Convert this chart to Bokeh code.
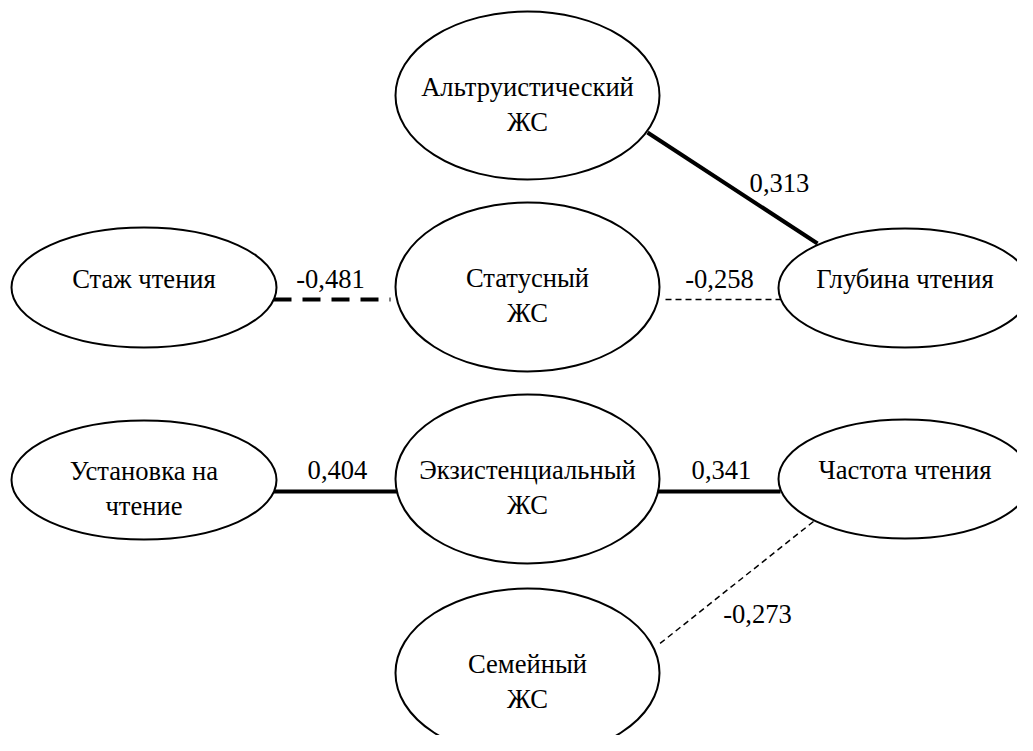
from bokeh.plotting import figure
from bokeh.models import Range1d
from bokeh.core.properties import value
from bokeh.embed import file_html
from bokeh.resources import INLINE

# ---- data ----
node_names = ["Альтруистический\nЖС", "Стаж чтения", "Статусный\nЖС", "Глубина чтения",
              "Установка на\nчтение", "Экзистенциальный\nЖС", "Частота чтения", "Семейный\nЖС"]
edge_from = [0, 1, 2, 4, 5, 6]
edge_to = [3, 2, 3, 5, 6, 7]
edge_r = [0.313, -0.481, -0.258, 0.404, 0.341, -0.273]

# ---- layout (screen pixel coordinates) ----
node_x = [527, 143.5, 527, 904.5, 143.5, 527, 904.5, 527]
node_y = [95, 287, 286.5, 287.5, 479.5, 478.5, 478.5, 672.5]
node_w = [264, 265, 264, 253, 265, 264, 253, 264]
node_h = [168, 120, 169, 119, 119, 169, 119, 169]
edge_x0 = [647, 273, 665, 273, 657, 813]
edge_y0 = [132, 299, 299, 491, 491, 521]
edge_x1 = [817, 390, 780, 397, 780, 657]
edge_y1 = [243, 299, 299, 491, 491, 645]
label_x = [779, 330, 719, 337, 721, 757]
label_y = [191, 287, 287, 478, 478, 622]

FONT = value("Liberation Serif")
FS = "26.6px"
LINE_GAP = 35
TEXT_DY = -9   # renderer baseline correction

p = figure(width=1017, height=735, output_backend="svg", toolbar_location=None,
           x_range=Range1d(0, 1017), y_range=Range1d(735, 0),
           x_axis_type=None, y_axis_type=None, min_border=0)
p.grid.visible = False
p.outline_line_color = None
p.background_fill_color = "white"
p.border_fill_color = "white"

# edges
for i in range(len(edge_r)):
    r = edge_r[i]
    lw = 4 if abs(r) >= 0.3 else 1.5
    if r < 0:
        dash = "18 11" if abs(r) >= 0.3 else "6 4"
    else:
        dash = "solid"
    p.line([edge_x0[i], edge_x1[i]], [edge_y0[i], edge_y1[i]],
           line_color="black", line_width=lw, line_dash=dash)

# nodes
p.ellipse(x=node_x, y=node_y, width=node_w, height=node_h,
          fill_color="white", line_color="black", line_width=2)

tx, ty, tt = [], [], []
for i, name in enumerate(node_names):
    for k, line in enumerate(name.split("\n")):
        tx.append(node_x[i])
        ty.append(node_y[i] + k * LINE_GAP + TEXT_DY)
        tt.append(line)
p.text(x=tx, y=ty, text=tt, text_align="center", text_baseline="alphabetic",
       text_font=FONT, text_font_size=FS, text_color="black")

# edge labels
labels = [f"{r:.3f}".replace(".", ",") for r in edge_r]
p.text(x=label_x, y=[v + TEXT_DY for v in label_y], text=labels, text_align="center",
       text_baseline="alphabetic", text_font=FONT, text_font_size=FS, text_color="black")

open("out.html", "w").write(file_html(p, INLINE))
